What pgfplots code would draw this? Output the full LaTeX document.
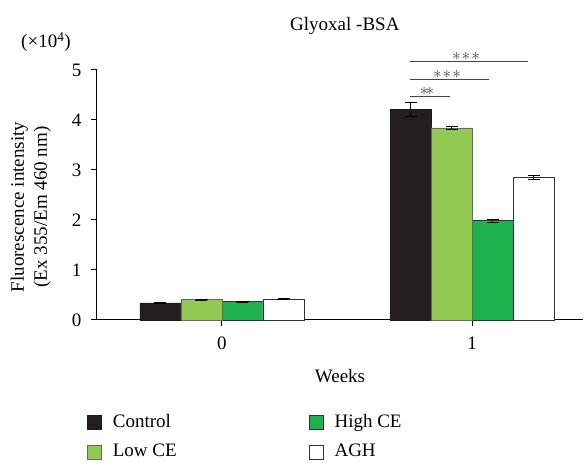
\documentclass[border=0pt]{standalone}
\usepackage{pgfplots}
\pgfplotsset{compat=1.18}
\usepackage{fontspec}
\setmainfont{Liberation Serif}
\definecolor{cctrl}{HTML}{231F20}
\definecolor{clow}{HTML}{92C955}
\definecolor{chigh}{HTML}{1EB14E}
\definecolor{sig}{HTML}{444444}
\begin{document}
\fontsize{19}{23}\selectfont
\begin{tikzpicture}
\useasboundingbox (-97pt,-145pt) rectangle (487pt,320pt);
\begin{axis}[
  at={(0pt,0pt)}, anchor=south west,
  scale only axis, width=486pt, height=250pt,
  xmin=-0.5, xmax=1.444, ymin=0, ymax=5,
  axis lines=left, axis line style={line width=1pt, -},
  xtick={0,1}, ytick={0,1,2,3,4,5},
  tick align=outside, major tick length=6pt,
  tick style={line width=1pt, black},
  /pgf/number format/assume math mode=true,
  xticklabel style={yshift=-4pt},
  yticklabel style={xshift=-3pt},
  ybar=0pt, bar width=41pt,
  xlabel={Weeks},
  xlabel style={yshift=-7pt},
  ylabel={Fluorescence intensity\\(Ex 355/Em 460 nm)},
  ylabel style={align=center, at={(axis description cs:-0.136,0.452)}, anchor=center},
  title={Glyoxal -BSA},
  title style={at={(axis description cs:0.51,1)}, anchor=center, yshift=38pt},
  clip=false,
  legend style={at={(axis description cs:-0.027,-0.36)}, anchor=north west, draw=none, fill=none,
    /tikz/every odd column/.append style={column sep=9pt},
    /tikz/every even column/.append style={column sep=130pt},
    /tikz/row sep=10pt},
  legend columns=2,
  legend cell align=left,
  legend image code/.code={\draw[#1, line width=0.8pt] (0pt,-7pt) rectangle (14pt,7pt);},
  error bars/error bar style={line width=0.9pt, black},
  error bars/error mark options={rotate=90, mark size=6pt, line width=0.9pt, black},
]
\addplot[bar shift=-61.5pt, fill=cctrl, draw=cctrl!80!black, error bars/.cd, y dir=both, y explicit]
  coordinates {(0,0.34) +- (0,0.01) (1,4.21) +- (0,0.14)};
\addplot[bar shift=20.5pt, fill=chigh, draw=black!80, error bars/.cd, y dir=both, y explicit]
  coordinates {(0,0.37) +- (0,0.01) (1,1.99) +- (0,0.03)};
\addplot[bar shift=-20.5pt, fill=clow, draw=black!60, error bars/.cd, y dir=both, y explicit]
  coordinates {(0,0.41) +- (0,0.01) (1,3.84) +- (0,0.03)};
\addplot[bar shift=61.5pt, fill=white, draw=black!80, error bars/.cd, y dir=both, y explicit]
  coordinates {(0,0.42) +- (0,0.01) (1,2.85) +- (0,0.04)};
\legend{Control, High CE, Low CE, AGH}
\draw[sig, line width=1.3pt] (axis cs:0.752,4.47) -- (axis cs:0.912,4.47);
\draw[sig, line width=1.3pt] (axis cs:0.752,4.81) -- (axis cs:1.068,4.81);
\draw[sig, line width=1.3pt] (axis cs:0.752,5.17) -- (axis cs:1.224,5.17);
\node[sig, anchor=south, inner sep=0pt, yshift=1pt, font=\fontsize{18}{18}\selectfont] at (axis cs:0.82,4.47) {$\ast\!\ast$};
\node[sig, anchor=south, inner sep=0pt, yshift=1pt, font=\fontsize{18}{18}\selectfont] at (axis cs:0.90,4.81) {$\ast\!\ast\!\ast$};
\node[sig, anchor=south, inner sep=0pt, yshift=1pt, font=\fontsize{18}{18}\selectfont] at (axis cs:0.976,5.17) {$\ast\!\ast\!\ast$};
\node[anchor=center] at (axis description cs:-0.105,1.112) {(×10\textsuperscript{4})};
\end{axis}
\end{tikzpicture}
\end{document}
